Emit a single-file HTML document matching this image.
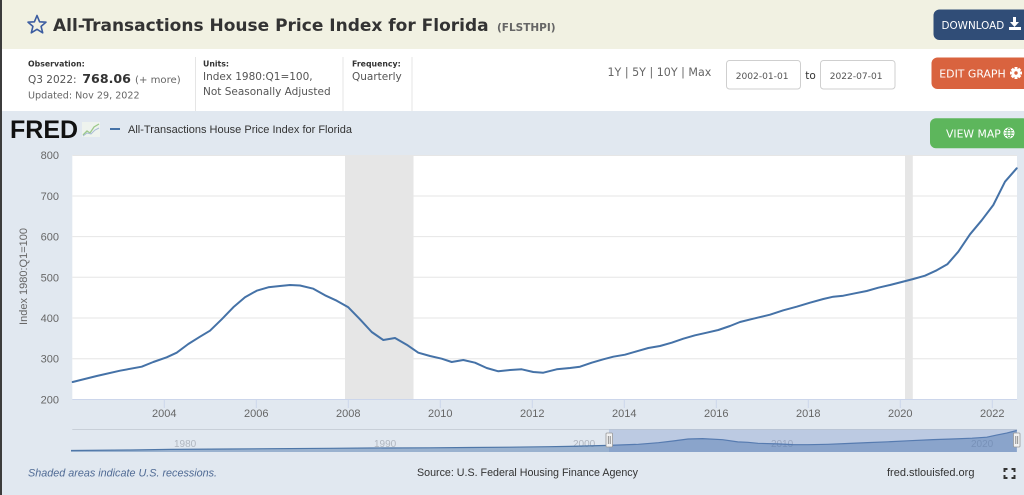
<!DOCTYPE html>
<html><head><meta charset="utf-8"><style>
html,body{margin:0;padding:0;width:1024px;height:495px;overflow:hidden;background:#e1e8f0}
svg{display:block}
</style></head><body>
<svg width="1024" height="495" viewBox="0 0 1024 495" xmlns="http://www.w3.org/2000/svg">
<!-- backgrounds -->
<rect x="0" y="0" width="1024" height="495" fill="#e1e8f0"/>
<rect x="0" y="0" width="1024" height="49" fill="#f1f1e2"/>
<rect x="0" y="49" width="1024" height="62" fill="#ffffff"/>
<rect x="0" y="0" width="2" height="495" fill="#3c3c3c"/>

<!-- header -->
<polygon points="37,15.5 39.6,21.8 46,22.2 41.1,26.4 42.7,32.8 37,29.3 31.3,32.8 32.9,26.4 28,22.2 34.4,21.8" fill="none" stroke="#3b5ca0" stroke-width="1.6" stroke-linejoin="round"/>
<text x="53" y="31" font-family="DejaVu Sans, sans-serif" font-weight="bold" font-size="17" fill="#333">All-Transactions House Price Index for Florida</text>
<text x="497" y="31" font-family="DejaVu Sans, sans-serif" font-weight="bold" font-size="10.5" fill="#666">(FLSTHPI)</text>

<rect x="933.5" y="9.5" width="96" height="30.5" rx="6" fill="#304d77"/>
<text x="941.5" y="29" font-family="DejaVu Sans, sans-serif" font-size="10.4" fill="#fff">DOWNLOAD</text>
<g fill="#fff"><rect x="1013" y="17" width="3" height="6"/><polygon points="1010,22 1019,22 1014.5,27"/><rect x="1009" y="27" width="12" height="3"/></g>

<!-- info row -->
<text x="28" y="66.5" font-family="DejaVu Sans, sans-serif" font-weight="bold" font-size="7.8" fill="#333">Observation:</text>
<text x="28" y="83" font-family="DejaVu Sans, sans-serif" font-size="10.5" fill="#555">Q3 2022:</text>
<text x="82.3" y="83" font-family="DejaVu Sans, sans-serif" font-weight="bold" font-size="12.6" fill="#333">768.06</text>
<text x="135" y="83" font-family="DejaVu Sans, sans-serif" font-size="10.1" fill="#666">(+ more)</text>
<text x="28" y="98.7" font-family="DejaVu Sans, sans-serif" font-size="9.6" fill="#666">Updated: Nov 29, 2022</text>
<rect x="195" y="57" width="1" height="54" fill="#e5e5e5"/>
<text x="203" y="66.5" font-family="DejaVu Sans, sans-serif" font-weight="bold" font-size="7.8" fill="#333">Units:</text>
<text x="203" y="80" font-family="DejaVu Sans, sans-serif" font-size="10.5" fill="#555">Index 1980:Q1=100,</text>
<text x="203" y="95" font-family="DejaVu Sans, sans-serif" font-size="10.5" fill="#555">Not Seasonally Adjusted</text>
<rect x="342.5" y="57" width="1" height="54" fill="#e5e5e5"/>
<text x="352" y="66.5" font-family="DejaVu Sans, sans-serif" font-weight="bold" font-size="7.8" fill="#333">Frequency:</text>
<text x="352" y="80" font-family="DejaVu Sans, sans-serif" font-size="10.5" fill="#555">Quarterly</text>
<rect x="411.5" y="57" width="1" height="54" fill="#e5e5e5"/>

<text x="607.5" y="76" font-family="DejaVu Sans, sans-serif" font-size="11.1" fill="#666">1Y | 5Y | 10Y | Max</text>
<rect x="726.5" y="60.5" width="74" height="28.5" rx="3" fill="#fff" stroke="#cfcfcf"/>
<text x="735.7" y="79" font-family="DejaVu Sans, sans-serif" font-size="9.1" fill="#555">2002-01-01</text>
<text x="805.3" y="79" font-family="DejaVu Sans, sans-serif" font-size="10.5" fill="#333">to</text>
<rect x="820.5" y="60.5" width="74.5" height="28.5" rx="3" fill="#fff" stroke="#cfcfcf"/>
<text x="829.7" y="79" font-family="DejaVu Sans, sans-serif" font-size="9.1" fill="#555">2022-07-01</text>

<rect x="931.5" y="57.5" width="98" height="31.5" rx="6" fill="#d9633f"/>
<text x="939.3" y="77.7" font-family="DejaVu Sans, sans-serif" font-size="10.9" fill="#fff">EDIT GRAPH</text>
<g transform="translate(1016,73)" fill="#fff">
<circle r="4.3"/>
<rect x="-1.5" y="-6" width="3" height="12"/>
<rect x="-6" y="-1.5" width="12" height="3"/>
<rect x="-1.5" y="-6" width="3" height="12" transform="rotate(45)"/>
<rect x="-1.5" y="-6" width="3" height="12" transform="rotate(-45)"/>
<circle r="1.7" fill="#d9633f"/>
</g>

<!-- chart header -->
<text x="10" y="138" font-family="Liberation Sans, sans-serif" font-weight="bold" font-size="25" fill="#111">FRED</text>
<g>
<rect x="82" y="122" width="18" height="15" fill="#eef3ee"/>
<polyline points="83,135 87,131 90,133 94,127 99,124" fill="none" stroke="#9cc98a" stroke-width="1.3"/>
<polyline points="83,136 87,133 91,134 95,130 99,128" fill="none" stroke="#a8bcd6" stroke-width="1"/>
</g>
<line x1="110" y1="129" x2="120" y2="129" stroke="#4572a7" stroke-width="2"/>
<text x="128" y="133" font-family="Liberation Sans, sans-serif" font-size="11" fill="#333">All-Transactions House Price Index for Florida</text>

<rect x="930" y="118.3" width="99" height="30" rx="6" fill="#5db65c"/>
<text x="946" y="137.3" font-family="DejaVu Sans, sans-serif" font-size="10.8" fill="#fff">VIEW MAP</text>
<g transform="translate(1009,133)" fill="none" stroke="#fff" stroke-width="1.3">
<circle r="4.8" fill="#fff"/>
<ellipse rx="2" ry="4.8" stroke="#5db65c" stroke-width="0.9"/>
<line x1="-4.8" y1="0" x2="4.8" y2="0" stroke="#5db65c" stroke-width="0.9"/>
<line x1="-4" y1="-2.4" x2="4" y2="-2.4" stroke="#5db65c" stroke-width="0.8"/>
<line x1="-4" y1="2.4" x2="4" y2="2.4" stroke="#5db65c" stroke-width="0.8"/>
</g>

<!-- plot -->
<rect x="72.3" y="155" width="944.7" height="244.3" fill="#fff"/>
<g stroke="#e6e6e6" stroke-width="1">
<line x1="72.3" y1="155.5" x2="1017" y2="155.5"/>
<line x1="72.3" y1="196" x2="1017" y2="196"/>
<line x1="72.3" y1="236.6" x2="1017" y2="236.6"/>
<line x1="72.3" y1="277.3" x2="1017" y2="277.3"/>
<line x1="72.3" y1="318" x2="1017" y2="318"/>
<line x1="72.3" y1="358.7" x2="1017" y2="358.7"/>
</g>
<rect x="345" y="155" width="68.5" height="244.3" fill="#e6e6e6"/>
<rect x="905" y="155" width="7.8" height="244.3" fill="#e6e6e6"/>
<line x1="72.3" y1="399.5" x2="1017" y2="399.5" stroke="#ccd6eb" stroke-width="1"/>
<g stroke="#ccd6eb" stroke-width="1">
<line x1="164.3" y1="399.5" x2="164.3" y2="408"/>
<line x1="256.3" y1="399.5" x2="256.3" y2="408"/>
<line x1="348.3" y1="399.5" x2="348.3" y2="408"/>
<line x1="440.3" y1="399.5" x2="440.3" y2="408"/>
<line x1="532.3" y1="399.5" x2="532.3" y2="408"/>
<line x1="624.3" y1="399.5" x2="624.3" y2="408"/>
<line x1="716.3" y1="399.5" x2="716.3" y2="408"/>
<line x1="808.3" y1="399.5" x2="808.3" y2="408"/>
<line x1="900.3" y1="399.5" x2="900.3" y2="408"/>
<line x1="992.3" y1="399.5" x2="992.3" y2="408"/>
</g>

<polyline fill="none" stroke="#4572a7" stroke-width="2" stroke-linejoin="round" stroke-linecap="round" points="72.7,382 96.7,376 120,370.7 141.7,366.7 153.3,362 166.7,357.3 176.7,352.7 188.3,344 200,336.7 210,330.7 221.7,319.3 233.3,307.3 245,297.3 256.7,290.7 268.3,287.3 280,286 290,285 300,285.5 313.3,288.7 325,295.3 336.7,300.7 348.3,307.3 360,319.3 371.7,332 383.3,340 395,338 406.7,344.7 418.3,352.7 430,356 441.7,358.7 451.7,362 463.3,360 475,362.7 486.7,368 498.3,371.3 510,370 521.7,369.3 533.3,372 543.3,372.7 556.7,369.3 570,368 580,366.7 591.7,362.7 603.3,359.3 613.3,356.7 625,354.7 636.7,351.3 648.3,348 660,346 671.7,342.7 683.3,338.7 695,335.3 706.7,332.7 718.3,330 730,326 740,322 753.3,318.7 770,314.7 783.3,310.3 796.7,306.7 810,302.7 823.3,299 833.3,296.7 843.3,295.7 855,293.3 866.7,291 878.3,287.7 890,285 901.7,282 913.3,279 925,275.7 936.7,270.3 947.3,264.3 958.3,251.7 970,234.3 981.7,220.3 993.3,205 1005,181.7 1016.7,168.3"/>

<!-- axis labels -->
<g font-family="Liberation Sans, sans-serif" font-size="11" fill="#666" text-anchor="end">
<text x="59" y="159">800</text>
<text x="59" y="200">700</text>
<text x="59" y="240.6">600</text>
<text x="59" y="281.3">500</text>
<text x="59" y="322">400</text>
<text x="59" y="362.7">300</text>
<text x="59" y="403.3">200</text>
</g>
<g font-family="Liberation Sans, sans-serif" font-size="11" fill="#666" text-anchor="middle">
<text x="164.3" y="417">2004</text>
<text x="256.3" y="417">2006</text>
<text x="348.3" y="417">2008</text>
<text x="440.3" y="417">2010</text>
<text x="532.3" y="417">2012</text>
<text x="624.3" y="417">2014</text>
<text x="716.3" y="417">2016</text>
<text x="808.3" y="417">2018</text>
<text x="900.3" y="417">2020</text>
<text x="992.3" y="417">2022</text>
</g>
<text transform="translate(27,276.5) rotate(-90)" font-family="Liberation Sans, sans-serif" font-size="11" fill="#666" text-anchor="middle">Index 1980:Q1=100</text>

<!-- navigator -->
<line x1="72.3" y1="429.5" x2="1017" y2="429.5" stroke="#c8cfd8" stroke-width="1"/>
<g font-family="Liberation Sans, sans-serif" font-size="10" fill="#b0b6bf">
<text x="174" y="447">1980</text>
<text x="374" y="447">1990</text>
<text x="573" y="447">2000</text>
<text x="771" y="447">2010</text>
<text x="971" y="447">2020</text>
</g>
<polygon fill="rgba(69,114,167,0.45)" points="71,450.5 130.7,450 170.5,449.4 230.2,449 270.5,448.7 330.2,448.3 370,448 429.7,447.8 469.5,447.5 509.3,447.2 549.1,446.7 569,446.4 588.9,445.9 608.5,445.4 638.3,444.3 658.5,442.7 672.9,441 688.1,439 702.5,438.6 722.7,439.7 737.8,441.9 747.9,442.3 758,443.3 777.5,443.9 792.6,444.6 807.7,444.7 827.9,444.3 847.4,443.5 867.6,442.6 887.8,441.8 910.1,440.7 933.2,439.6 951.9,439 972.1,438.2 986.8,437.2 996.6,435.1 1006.7,433.1 1016.8,430.5 1016.8,452 71,452"/>
<polyline fill="none" stroke="#4f77a8" stroke-width="1.2" points="71,450.5 130.7,450 170.5,449.4 230.2,449 270.5,448.7 330.2,448.3 370,448 429.7,447.8 469.5,447.5 509.3,447.2 549.1,446.7 569,446.4 588.9,445.9 608.5,445.4 638.3,444.3 658.5,442.7 672.9,441 688.1,439 702.5,438.6 722.7,439.7 737.8,441.9 747.9,442.3 758,443.3 777.5,443.9 792.6,444.6 807.7,444.7 827.9,444.3 847.4,443.5 867.6,442.6 887.8,441.8 910.1,440.7 933.2,439.6 951.9,439 972.1,438.2 986.8,437.2 996.6,435.1 1006.7,433.1 1016.8,430.5"/>
<rect x="609" y="429.5" width="408" height="22.5" fill="rgba(102,133,194,0.3)"/>
<g>
<rect x="606" y="433" width="6.5" height="14" rx="1" fill="#f2f2f2" stroke="#999" stroke-width="0.8"/>
<line x1="608.3" y1="436" x2="608.3" y2="444" stroke="#777" stroke-width="0.8"/>
<line x1="610.2" y1="436" x2="610.2" y2="444" stroke="#777" stroke-width="0.8"/>
<rect x="1013.5" y="433" width="6.5" height="14" rx="1" fill="#f2f2f2" stroke="#999" stroke-width="0.8"/>
<line x1="1015.8" y1="436" x2="1015.8" y2="444" stroke="#777" stroke-width="0.8"/>
<line x1="1017.7" y1="436" x2="1017.7" y2="444" stroke="#777" stroke-width="0.8"/>
</g>

<!-- footer -->
<text x="28" y="476.3" font-family="Liberation Sans, sans-serif" font-style="italic" font-size="10.8" fill="#4f6a94">Shaded areas indicate U.S. recessions.</text>
<text x="417" y="476" font-family="Liberation Sans, sans-serif" font-size="10.7" fill="#333">Source: U.S. Federal Housing Finance Agency</text>
<text x="887" y="476" font-family="Liberation Sans, sans-serif" font-size="11" fill="#333">fred.stlouisfed.org</text>
<g fill="none" stroke="#333" stroke-width="2">
<polyline points="1004.5,472 1004.5,469 1007.5,469"/>
<polyline points="1011.5,469 1014.5,469 1014.5,472"/>
<polyline points="1004.5,475 1004.5,478 1007.5,478"/>
<polyline points="1011.5,478 1014.5,478 1014.5,475"/>
</g>
</svg>
</body></html>
